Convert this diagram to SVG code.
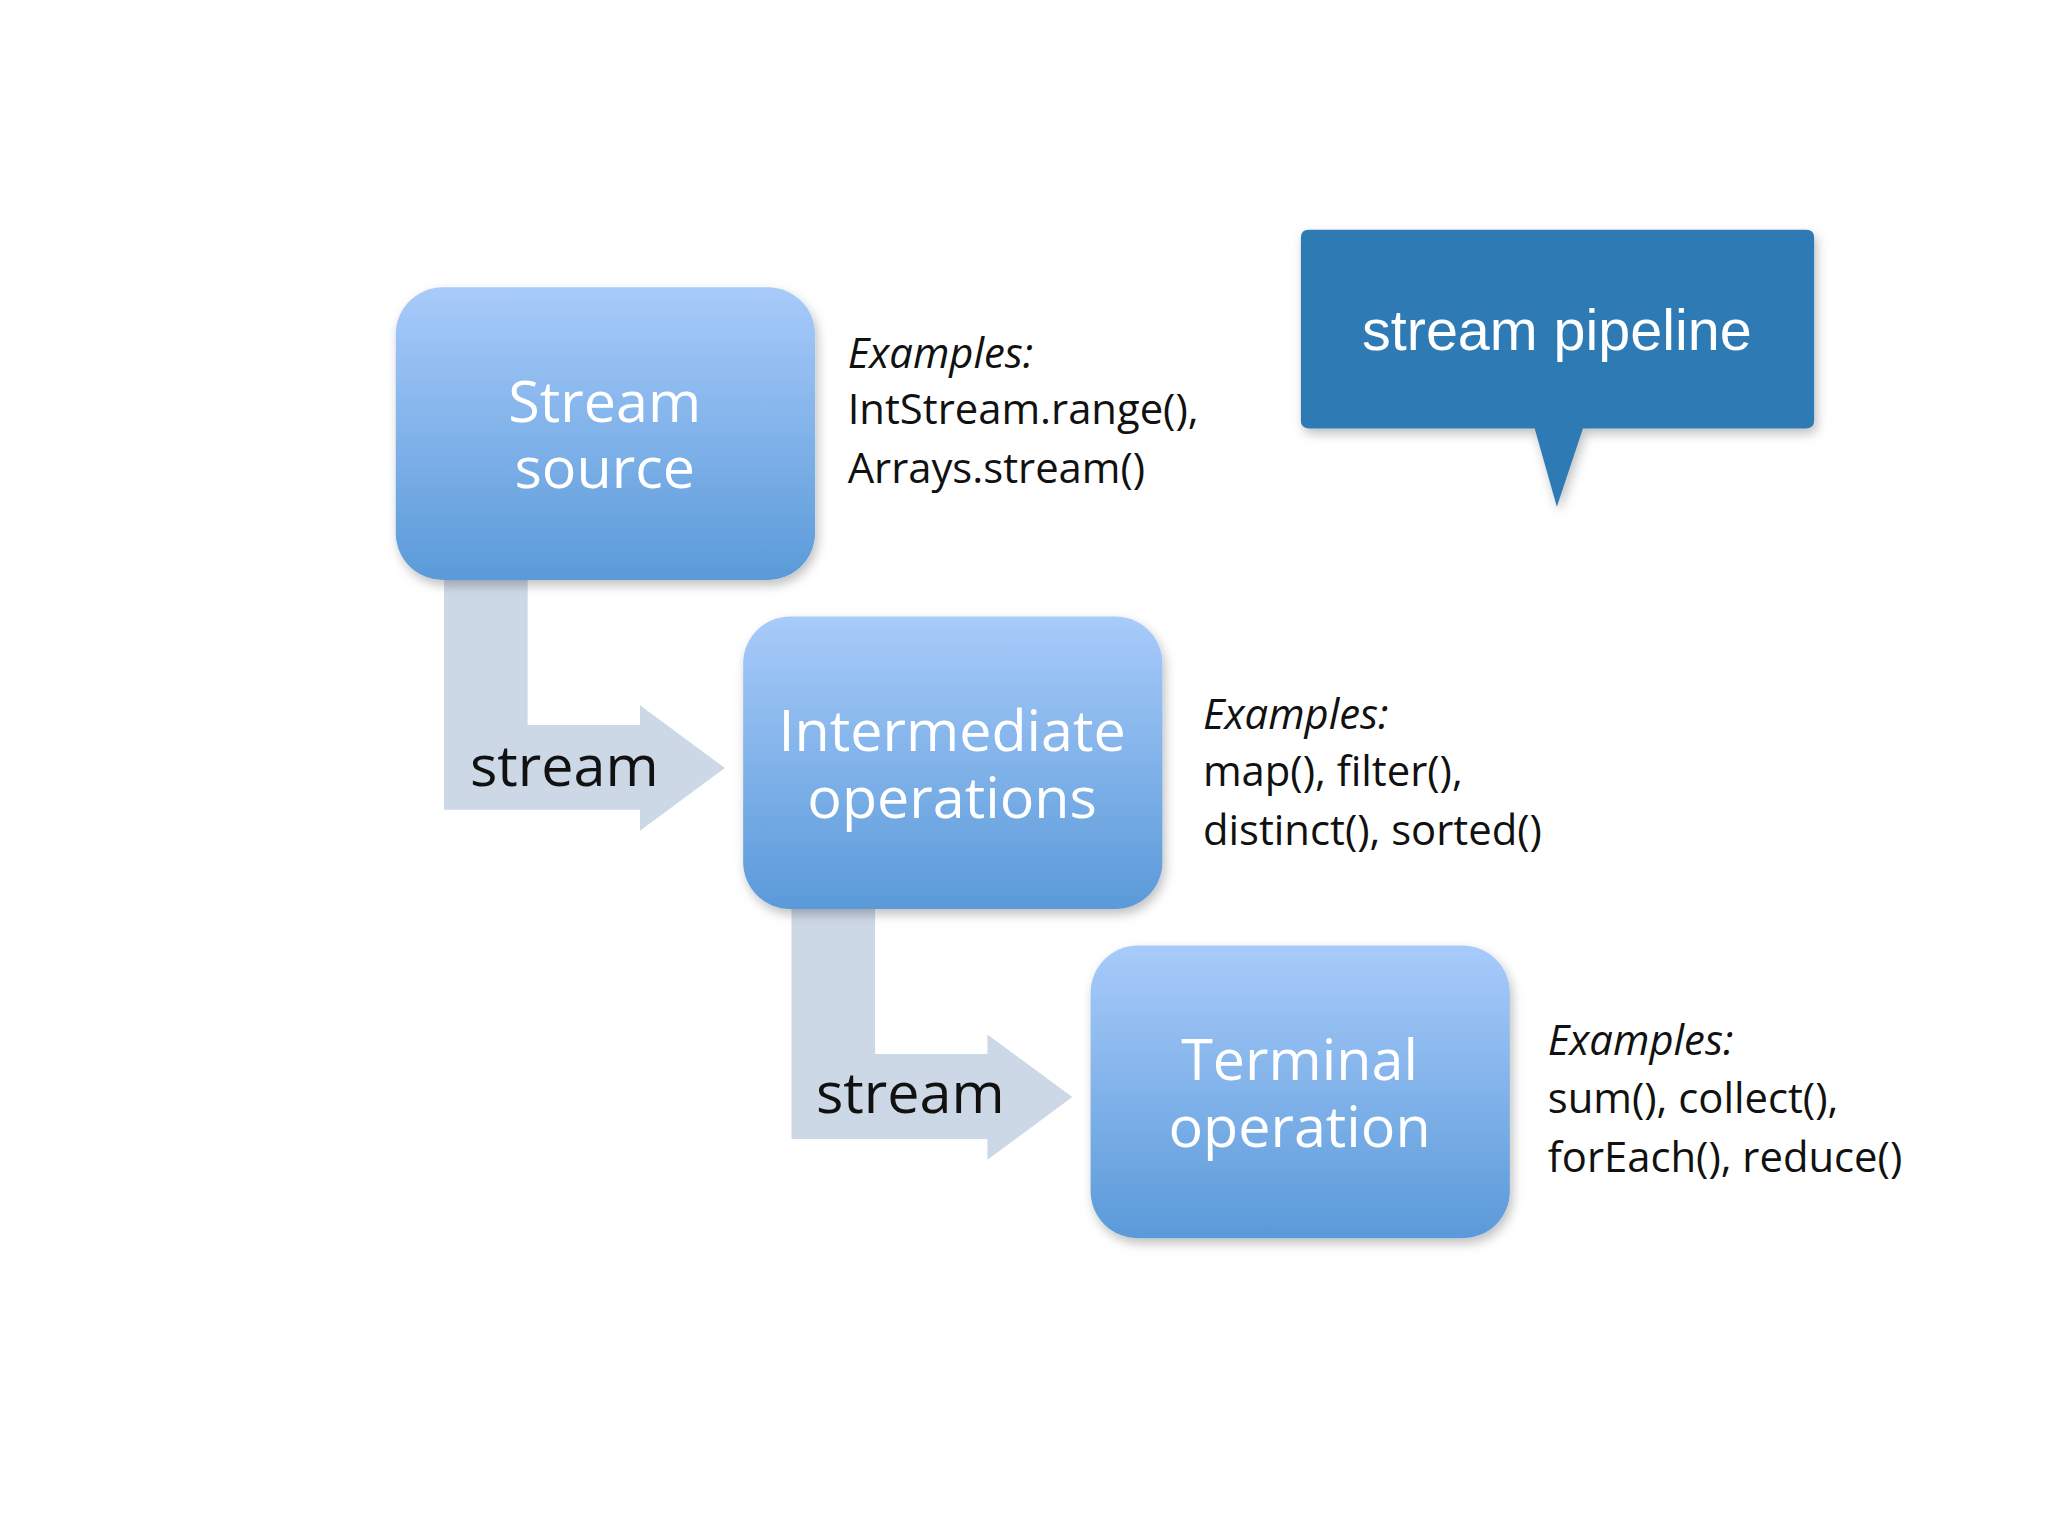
<svg xmlns="http://www.w3.org/2000/svg" width="2048" height="1536" viewBox="0 0 2048 1536">
<defs>
<linearGradient id="g" x1="0" y1="0" x2="0" y2="1">
<stop offset="0" stop-color="#a8cbfa"/><stop offset="1" stop-color="#5a9ad9"/>
</linearGradient>
<filter id="sh" x="-10%" y="-10%" width="130%" height="130%"><feDropShadow dx="2" dy="4" stdDeviation="4" flood-color="#000" flood-opacity="0.25"/></filter>
</defs>
<style>
.box{fill:url(#g);filter:url(#sh)}
.bt{font-family:"Open Sans","DejaVu Sans",sans-serif;font-size:44px;fill:#fff;text-anchor:middle}
.ex{font-family:"Open Sans","Liberation Sans",sans-serif;font-size:32px;fill:#111}
.it{font-style:italic}
.st{font-family:"Open Sans","DejaVu Sans",sans-serif;font-size:44px;fill:#111;text-anchor:middle}
.arr{fill:#cdd8e6}
</style>
<rect width="2048" height="1536" fill="#fff"/>
<g transform="scale(1.3061)">
<g id="connectors">
<path class="arr" d="M340,444 H404 V555 H490 V540 L555,588 L490,636 V620 H340 Z"/>
<path class="arr" d="M606,696 H670 V807 H756 V792 L821,840 L756,888 V872 H606 Z"/>
<text class="st" x="432" y="602">stream</text>
<text class="st" x="697" y="852">stream</text>
</g>
<g id="source">
<rect class="box" x="303" y="220" width="321" height="224" rx="36"/>
<text class="bt" x="463" y="323">Stream</text><text class="bt" x="463" y="374">source</text>
</g>
<g id="intermediate">
<rect class="box" x="569" y="472" width="321" height="224" rx="36"/>
<text class="bt" x="729" y="575">Intermediate</text><text class="bt" x="729" y="626">operations</text>
</g>
<g id="terminal">
<rect class="box" x="835" y="724" width="321" height="224" rx="36"/>
<text class="bt" x="995" y="827">Terminal</text><text class="bt" x="995" y="878">operation</text>
</g>
<g id="ex1" class="ex"><text x="649" y="282" class="it">Examples:</text><text x="649" y="325">IntStream.range(),</text><text x="649" y="370">Arrays.stream()</text></g>
<g id="ex2" class="ex"><text x="921" y="558" class="it">Examples:</text><text x="921" y="602">map(), filter(),</text><text x="921" y="647">distinct(), sorted()</text></g>
<g id="ex3" class="ex"><text x="1185" y="808" class="it">Examples:</text><text x="1185" y="852">sum(), collect(),</text><text x="1185" y="897">forEach(), reduce()</text></g>
<g id="callout">
<path d="M1002,176 H1383 Q1389,176 1389,182 V322 Q1389,328 1383,328 H1212 L1192,388 L1175,328 H1002 Q996,328 996,322 V182 Q996,176 1002,176 Z" fill="#2e7ab5" filter="url(#sh)"/>
<text x="1192" y="268" style="font-family:'Liberation Sans','DejaVu Sans',sans-serif;font-size:44px;fill:#fff;text-anchor:middle">stream pipeline</text>
</g>
</g>
</svg>
